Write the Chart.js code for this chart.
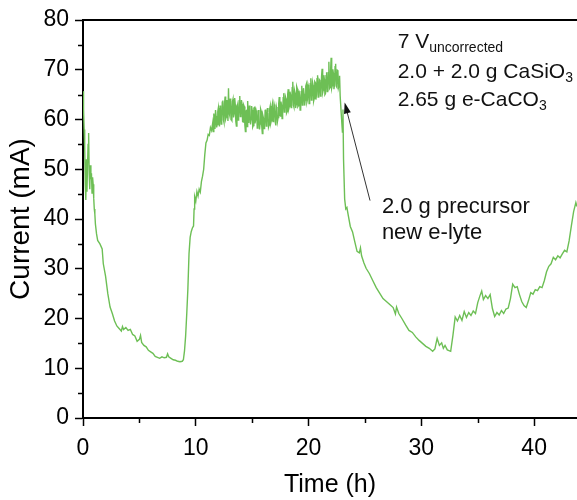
<!DOCTYPE html>
<html>
<head>
<meta charset="utf-8">
<script src="https://cdn.jsdelivr.net/npm/chart.js@4.4.1/dist/chart.umd.min.js"></script>
<style>
  html, body { margin: 0; padding: 0; background: #fff; }
  #wrap { width: 577px; height: 500px; }
</style>
</head>
<body>
<div id="wrap"><canvas id="chart" width="577" height="500"></canvas></div>
<script>
// time (h) and current (mA)
// first decay + recovery, 0 - 11.4 h
const earlyTime = [
  0, 0.05, 0.1, 0.15, 0.2, 0.25, 0.3, 0.35, 0.4, 0.45,
  0.5, 0.55, 0.6, 0.65, 0.7, 0.75, 0.8, 0.85, 0.9, 0.95,
  1.0, 1.05, 1.1, 1.2, 1.3, 1.5, 1.7, 1.8, 2.0, 2.2,
  2.4, 2.6, 2.8, 3.0, 3.2, 3.4, 3.5, 3.6, 3.8, 4.0,
  4.2, 4.4, 4.6, 4.8, 5.0, 5.1, 5.2, 5.4, 5.6, 5.8,
  6.0, 6.2, 6.4, 6.6, 6.8, 7.0, 7.2, 7.4, 7.5, 7.6,
  7.8, 8.0, 8.2, 8.4, 8.6, 8.8, 8.9, 9.0, 9.1, 9.2,
  9.3, 9.4, 9.5, 9.6, 9.7, 9.8, 9.85, 9.9, 10.0, 10.1,
  10.2, 10.3, 10.4, 10.5, 10.6, 10.7, 10.8, 10.9, 11.0, 11.1,
  11.2, 11.3, 11.4
];
const earlyCurrent = [
  65.7, 62.0, 58.0, 54.5, 47.0, 43.8, 52.0, 45.5, 50.5, 55.0,
  57.3, 49.0, 46.0, 50.8, 48.0, 49.2, 45.2, 48.4, 47.0, 44.2,
  42.0, 41.0, 39.0, 37.0, 35.7, 35.0, 34.0, 31.0, 28.5, 25.0,
  22.3, 21.0, 19.5, 18.5, 18.0, 17.5, 18.4, 17.8, 18.2, 17.6,
  17.8, 16.8, 16.5, 15.4, 15.8, 16.6, 15.2, 14.6, 14.3, 13.6,
  13.3, 13.0, 12.4, 12.2, 12.0, 12.3, 12.1, 12.2, 12.9, 12.3,
  12.0, 11.7, 11.6, 11.4, 11.3, 11.4, 11.7, 13.5, 16.5, 21.0,
  26.0, 33.0, 36.3, 37.5, 38.2, 38.6, 42.0, 44.5, 43.6, 45.5,
  44.6, 46.0, 45.4, 47.5, 48.6, 50.0, 53.0, 55.3, 55.8, 57.0,
  56.8, 58.4, 57.8
];

// noisy plateau, 11.5 - 22.75 h
const plateauTime = [
  11.5, 11.55, 11.6, 11.65, 11.7, 11.75, 11.8, 11.85, 11.9, 11.95,
  12.0, 12.05, 12.1, 12.15, 12.2, 12.25, 12.3, 12.35, 12.4, 12.45,
  12.5, 12.55, 12.6, 12.65, 12.7, 12.75, 12.8, 12.85, 12.9, 12.95,
  13.0, 13.05, 13.1, 13.15, 13.2, 13.25, 13.3, 13.35, 13.4, 13.45,
  13.5, 13.55, 13.6, 13.65, 13.7, 13.75, 13.8, 13.85, 13.9, 13.95,
  14.0, 14.05, 14.1, 14.15, 14.2, 14.25, 14.3, 14.35, 14.4, 14.45,
  14.5, 14.55, 14.6, 14.65, 14.7, 14.75, 14.8, 14.85, 14.9, 14.95,
  15.0, 15.05, 15.1, 15.15, 15.2, 15.25, 15.3, 15.35, 15.4, 15.45,
  15.5, 15.55, 15.6, 15.65, 15.7, 15.75, 15.8, 15.85, 15.9, 15.95,
  16.0, 16.05, 16.1, 16.15, 16.2, 16.25, 16.3, 16.35, 16.4, 16.45,
  16.5, 16.55, 16.6, 16.65, 16.7, 16.75, 16.8, 16.85, 16.9, 16.95,
  17.0, 17.05, 17.1, 17.15, 17.2, 17.25, 17.3, 17.35, 17.4, 17.45,
  17.5, 17.55, 17.6, 17.65, 17.7, 17.75, 17.8, 17.85, 17.9, 17.95,
  18.0, 18.05, 18.1, 18.15, 18.2, 18.25, 18.3, 18.35, 18.4, 18.45,
  18.5, 18.55, 18.6, 18.65, 18.7, 18.75, 18.8, 18.85, 18.9, 18.95,
  19.0, 19.05, 19.1, 19.15, 19.2, 19.25, 19.3, 19.35, 19.4, 19.45,
  19.5, 19.55, 19.6, 19.65, 19.7, 19.75, 19.8, 19.85, 19.9, 19.95,
  20.0, 20.05, 20.1, 20.15, 20.2, 20.25, 20.3, 20.35, 20.4, 20.45,
  20.5, 20.55, 20.6, 20.65, 20.7, 20.75, 20.8, 20.85, 20.9, 20.95,
  21.0, 21.05, 21.1, 21.15, 21.2, 21.25, 21.3, 21.35, 21.4, 21.45,
  21.5, 21.55, 21.6, 21.65, 21.7, 21.75, 21.8, 21.85, 21.9, 21.95,
  22.0, 22.05, 22.1, 22.15, 22.2, 22.25, 22.3, 22.35, 22.4, 22.45,
  22.5, 22.55, 22.6, 22.65, 22.7, 22.75
];
const plateauCurrent = [
  59.3, 57.6, 61.2, 59.8, 58.1, 61.9, 60.7, 58.4, 59.0, 61.6,
  62.3, 59.5, 58.6, 62.8, 61.5, 59.1, 60.2, 63.5, 63.8, 59.9,
  59.4, 63.2, 64.6, 60.1, 60.5, 63.9, 62.8, 59.7, 66.3, 61.4,
  60.9, 64.2, 63.4, 60.0, 59.8, 63.6, 64.1, 60.4, 61.2, 64.3,
  63.0, 59.6, 58.7, 62.4, 62.9, 59.9, 60.3, 63.8, 64.7, 60.6,
  61.0, 63.9, 63.1, 59.6, 59.5, 62.9, 62.6, 58.9, 57.6, 61.7,
  61.8, 58.6, 63.7, 60.4, 59.3, 62.8, 62.1, 59.0, 60.0, 62.7,
  61.9, 58.5, 58.8, 62.3, 62.4, 59.2, 59.9, 61.8, 61.3, 58.3,
  58.4, 61.9, 60.9, 58.0, 59.1, 62.1, 61.7, 58.6, 57.2, 60.8,
  60.3, 58.2, 58.6, 61.8, 62.0, 58.7, 59.4, 62.3, 61.5, 58.5,
  58.9, 62.1, 62.7, 59.3, 59.8, 62.6, 63.2, 59.6, 60.1, 63.0,
  62.4, 59.4, 58.8, 62.5, 61.9, 59.7, 60.4, 63.1, 64.5, 60.9,
  60.7, 63.6, 62.9, 60.2, 61.1, 64.4, 65.3, 61.5, 62.0, 64.6,
  64.2, 61.3, 61.6, 65.1, 66.1, 62.2, 62.7, 65.6, 65.0, 62.4,
  63.1, 66.4, 67.6, 62.9, 62.5, 65.9, 65.4, 62.3, 63.0, 66.6,
  66.2, 62.6, 62.8, 65.8, 64.9, 61.9, 62.1, 65.6, 66.8, 62.9,
  63.3, 66.3, 65.2, 62.8, 63.9, 66.7, 67.1, 63.5, 64.0, 67.0,
  66.5, 63.2, 63.6, 67.2, 68.3, 63.9, 64.4, 67.5, 66.9, 63.7,
  64.2, 67.6, 67.4, 64.0, 65.0, 68.2, 68.9, 64.5, 64.6, 68.0,
  67.8, 64.7, 65.3, 68.6, 70.2, 65.4, 65.9, 68.9, 68.1, 65.0,
  65.2, 68.8, 69.5, 65.6, 66.0, 69.4, 71.6, 66.2, 66.4, 69.7,
  72.4, 66.3, 66.8, 70.1, 69.3, 66.1, 67.0, 70.6, 71.2, 66.7,
  66.5, 69.9, 69.8, 66.4, 66.9, 68.8
];

// drop after new electrolyte and slow rise, 22.8 - 43.8 h
const lateTime = [
  22.8, 22.9, 23.0, 23.05,
  23.1, 23.2, 23.3, 23.4, 23.5, 23.7, 23.9, 24.1, 24.3, 24.5,
  24.6, 24.7, 24.9, 25.1, 25.4, 25.7, 26.0, 26.3, 26.6, 26.9,
  27.2, 27.5, 27.7, 27.8, 28.0, 28.3, 28.6, 28.9, 29.2, 29.5,
  29.8, 30.1, 30.4, 30.7, 31.0, 31.2, 31.4, 31.6, 31.8, 31.95,
  32.1, 32.3, 32.6, 32.8, 33.0, 33.2, 33.4, 33.6, 33.8, 34.0,
  34.2, 34.4, 34.6, 34.8, 35.0, 35.2, 35.35, 35.5, 35.7, 35.9,
  36.1, 36.3, 36.5, 36.7, 36.9, 37.1, 37.3, 37.5, 37.7, 37.9,
  38.1, 38.3, 38.5, 38.7, 38.9, 39.1, 39.3, 39.5, 39.7, 39.9,
  40.1, 40.3, 40.5, 40.7, 40.9, 41.1, 41.3, 41.5, 41.7, 41.9,
  42.1, 42.3, 42.5, 42.7, 42.9, 43.1, 43.3, 43.5, 43.7, 43.8
];
const lateCurrent = [
  64.8, 61.0, 57.5, 62.0,
  52.0, 44.0, 42.0, 42.3, 41.0, 38.5, 37.4, 35.4, 33.5, 33.2,
  34.2, 32.6, 31.2, 30.1, 29.0, 27.6, 26.2, 25.1, 24.0, 23.4,
  22.8, 22.2, 20.9, 22.3, 21.0, 19.9, 18.7, 17.6, 17.2, 16.3,
  15.6, 15.0, 14.4, 14.0, 13.4, 13.9, 16.0, 14.6, 15.1, 14.0,
  14.6, 13.7, 13.4, 16.6, 20.3, 19.5, 20.6, 19.6, 21.4, 20.2,
  21.2, 20.6, 21.5, 21.0, 23.2, 24.6, 25.5, 23.8, 24.6, 24.0,
  24.8, 22.0, 20.4, 21.2, 20.7, 21.6, 21.0, 21.9, 22.1, 24.0,
  26.9, 26.2, 26.4, 24.8, 23.4, 22.6, 22.2, 23.6, 25.2, 24.9,
  25.8, 25.6, 26.4, 26.2, 27.6, 29.4, 30.5, 31.0, 32.3, 31.8,
  32.6, 32.2, 33.0, 33.7, 33.4, 35.6, 38.6, 41.5, 43.3, 42.5
];

const timeH = earlyTime.concat(plateauTime, lateTime);
const currentMA = earlyCurrent.concat(plateauCurrent, lateCurrent);

const xMinorTicks = [5, 15, 25, 35];
const yMinorTicks = [5, 15, 25, 35, 45, 55, 65, 75];

// top-right note: each line is a list of runs, sub = subscript
const noteLines = [
  [{ t: "7 V" }, { t: "uncorrected", sub: true }],
  [{ t: "2.0 + 2.0 g CaSiO" }, { t: "3", sub: true }],
  [{ t: "2.65 g e-CaCO" }, { t: "3", sub: true }]
];
const noteX = 27.9;
const noteY = [74.4, 68.4, 62.7];

const calloutLines = ["2.0 g precursor", "new e-lyte"];
const calloutX = 26.5;
const calloutY = [41.2, 36.0];
const arrowTail = [25.45, 43.7];
const arrowTip = [23.2, 63.4];

const FONT = "Arial, 'Liberation Sans', sans-serif";
const GREEN = "#6dbf55";

// frame, minor ticks, arrow and notes
const extras = {
  id: "extras",
  afterDraw(chart) {
    const { ctx, chartArea: a, scales: { x, y } } = chart;
    ctx.save();
    ctx.strokeStyle = "#000";
    ctx.lineWidth = 2;
    ctx.beginPath();
    ctx.moveTo(a.left - 1, a.top);
    ctx.lineTo(a.right, a.top);
    ctx.stroke();

    ctx.lineWidth = 1.5;
    xMinorTicks.forEach(v => {
      const px = Math.round(x.getPixelForValue(v)) + 0.5;
      ctx.beginPath();
      ctx.moveTo(px, a.bottom);
      ctx.lineTo(px, a.bottom + 5);
      ctx.stroke();
    });
    yMinorTicks.forEach(v => {
      const py = Math.round(y.getPixelForValue(v)) + 0.5;
      ctx.beginPath();
      ctx.moveTo(a.left, py);
      ctx.lineTo(a.left - 5, py);
      ctx.stroke();
    });

    // arrow
    const tx = x.getPixelForValue(arrowTip[0]), ty = y.getPixelForValue(arrowTip[1]);
    const sx = x.getPixelForValue(arrowTail[0]), sy = y.getPixelForValue(arrowTail[1]);
    const ang = Math.atan2(ty - sy, tx - sx);
    ctx.strokeStyle = "#333";
    ctx.fillStyle = "#111";
    ctx.lineWidth = 1;
    ctx.beginPath();
    ctx.moveTo(sx, sy);
    ctx.lineTo(tx - 8 * Math.cos(ang), ty - 8 * Math.sin(ang));
    ctx.stroke();
    ctx.beginPath();
    ctx.moveTo(tx, ty);
    ctx.lineTo(tx - 11 * Math.cos(ang) + 3.5 * Math.sin(ang), ty - 11 * Math.sin(ang) - 3.5 * Math.cos(ang));
    ctx.lineTo(tx - 11 * Math.cos(ang) - 3.5 * Math.sin(ang), ty - 11 * Math.sin(ang) + 3.5 * Math.cos(ang));
    ctx.closePath();
    ctx.fill();

    // text
    ctx.fillStyle = "#111";
    ctx.textBaseline = "alphabetic";
    ctx.textAlign = "left";
    noteLines.forEach((runs, i) => {
      let cx = x.getPixelForValue(noteX);
      const by = y.getPixelForValue(noteY[i]);
      runs.forEach(r => {
        ctx.font = r.sub ? "14px " + FONT : "21px " + FONT;
        ctx.fillText(r.t, cx, by + (r.sub ? 4 : 0));
        cx += ctx.measureText(r.t).width;
      });
    });
    ctx.font = "22px " + FONT;
    calloutLines.forEach((t, i) => {
      ctx.fillText(t, x.getPixelForValue(calloutX), y.getPixelForValue(calloutY[i]));
    });
    ctx.restore();
  }
};

new Chart(document.getElementById("chart"), {
  type: "line",
  data: {
    datasets: [{
      data: timeH.map((t, i) => ({ x: t, y: currentMA[i] })),
      borderColor: GREEN,
      borderWidth: 1.4,
      pointRadius: 0,
      tension: 0,
      fill: false
    }]
  },
  options: {
    responsive: false,
    animation: false,
    layout: { padding: { top: 20, right: 0, left: 0, bottom: 0 } },
    plugins: { legend: { display: false }, tooltip: { enabled: false } },
    scales: {
      x: {
        type: "linear",
        min: 0,
        max: 43.8,
        afterFit: s => { s.height = 82; },
        ticks: { stepSize: 10, includeBounds: false, color: "#000", padding: 9, font: { family: FONT, size: 23 } },
        grid: { drawOnChartArea: false, tickLength: 8, tickColor: "#000", tickWidth: 1.5 },
        border: { color: "#000", width: 2 },
        title: { display: true, text: "Time (h)", color: "#000", padding: { top: 0, bottom: 0 }, font: { family: FONT, size: 25 } }
      },
      y: {
        min: 0,
        max: 80,
        afterFit: s => { s.width = 83; },
        ticks: { stepSize: 10, includeBounds: false, color: "#000", padding: 6, font: { family: FONT, size: 23 } },
        grid: { drawOnChartArea: false, tickLength: 8, tickColor: "#000", tickWidth: 1.5 },
        border: { color: "#000", width: 2 },
        title: { display: true, text: "Current (mA)", color: "#000", padding: { top: 4, bottom: 0 }, font: { family: FONT, size: 28 } }
      }
    }
  },
  plugins: [extras]
});
</script>
</body>
</html>
